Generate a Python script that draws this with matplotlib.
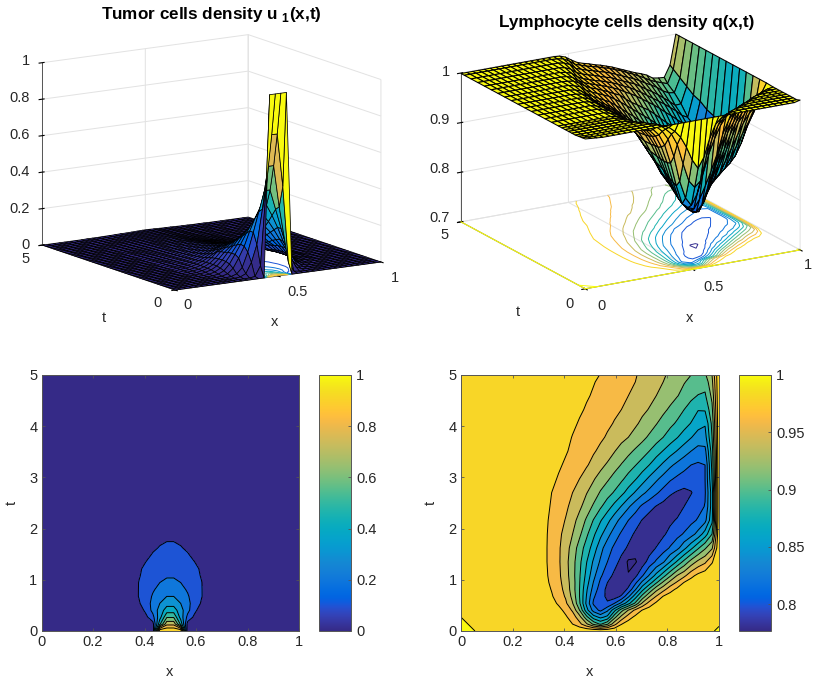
import numpy as np
import matplotlib
matplotlib.use("Agg")
import matplotlib.pyplot as plt
from matplotlib.colors import LinearSegmentedColormap, Normalize
from matplotlib.cm import ScalarMappable

plt.rcParams['font.family'] = ['Liberation Sans', 'DejaVu Sans']
plt.rcParams['mathtext.fontset'] = 'custom'
plt.rcParams['mathtext.bf'] = 'Liberation Sans:bold'
plt.rcParams['mathtext.rm'] = 'Liberation Sans'
FS = 10.5
TXT = '#262626'
EDGE = '#555555'

parula = LinearSegmentedColormap.from_list('parula', [
    (0.2081, 0.1663, 0.5292), (0.2116, 0.1898, 0.5777), (0.2123, 0.2138, 0.6270), (0.2081, 0.2386, 0.6771),
    (0.1959, 0.2645, 0.7279), (0.1707, 0.2919, 0.7792), (0.1253, 0.3242, 0.8303), (0.0591, 0.3598, 0.8683),
    (0.0117, 0.3875, 0.8820), (0.0060, 0.4086, 0.8828), (0.0165, 0.4266, 0.8786), (0.0329, 0.4430, 0.8720),
    (0.0498, 0.4586, 0.8641), (0.0629, 0.4737, 0.8554), (0.0723, 0.4887, 0.8467), (0.0779, 0.5040, 0.8384),
    (0.0793, 0.5200, 0.8312), (0.0749, 0.5375, 0.8263), (0.0641, 0.5570, 0.8240), (0.0488, 0.5772, 0.8228),
    (0.0343, 0.5966, 0.8199), (0.0265, 0.6137, 0.8135), (0.0239, 0.6287, 0.8038), (0.0231, 0.6418, 0.7913),
    (0.0228, 0.6535, 0.7768), (0.0267, 0.6642, 0.7607), (0.0384, 0.6743, 0.7436), (0.0590, 0.6838, 0.7254),
    (0.0843, 0.6928, 0.7062), (0.1133, 0.7015, 0.6859), (0.1453, 0.7098, 0.6646), (0.1801, 0.7177, 0.6424),
    (0.2178, 0.7250, 0.6193), (0.2586, 0.7317, 0.5954), (0.3022, 0.7376, 0.5712), (0.3482, 0.7424, 0.5473),
    (0.3953, 0.7459, 0.5244), (0.4420, 0.7481, 0.5033), (0.4871, 0.7491, 0.4840), (0.5300, 0.7491, 0.4661),
    (0.5709, 0.7485, 0.4494), (0.6099, 0.7473, 0.4337), (0.6473, 0.7456, 0.4188), (0.6834, 0.7435, 0.4044),
    (0.7184, 0.7411, 0.3905), (0.7525, 0.7384, 0.3768), (0.7858, 0.7356, 0.3633), (0.8185, 0.7327, 0.3498),
    (0.8507, 0.7299, 0.3360), (0.8824, 0.7274, 0.3217), (0.9139, 0.7258, 0.3063), (0.9450, 0.7261, 0.2886),
    (0.9739, 0.7314, 0.2666), (0.9938, 0.7455, 0.2403), (0.9990, 0.7653, 0.2164), (0.9955, 0.7861, 0.1967),
    (0.9880, 0.8066, 0.1794), (0.9789, 0.8271, 0.1633), (0.9697, 0.8481, 0.1475), (0.9626, 0.8705, 0.1309),
    (0.9589, 0.8949, 0.1132), (0.9598, 0.9218, 0.0948), (0.9661, 0.9514, 0.0755), (0.9763, 0.9831, 0.0538)], N=256)

# grid of the solution: 38 points in x and t
x_grid = np.linspace(0, 1, 38)
t_grid = np.linspace(0, 5, 38)

# u1 in thousandths, left half, columns x_grid[8:19], one row per t_grid
u_start = 8
u_rows = [
    [0, 0, 0, 0, 0, 0, 0, 0, 0, 1000, 1000],
    [0, 0, 0, 0, 0, 0, 1, 5, 60, 480, 770],
    [0, 0, 0, 0, 1, 4, 18, 75, 170, 360, 590],
    [0, 0, 0, 1, 4, 14, 45, 125, 230, 340, 450],
    [0, 0, 1, 3, 12, 38, 90, 150, 230, 300, 360],
    [0, 1, 3, 8, 22, 55, 104, 155, 210, 260, 300],
    [1, 2, 5, 13, 30, 62, 103, 145, 190, 225, 255],
    [2, 4, 9, 18, 35, 64, 102, 135, 170, 200, 220],
    [3, 5, 11, 20, 36, 63, 95, 120, 150, 172, 190],
    [4, 7, 12, 21, 36, 60, 92, 112, 132, 152, 165],
    [5, 8, 13, 22, 35, 56, 84, 100, 118, 132, 145],
    [6, 9, 14, 22, 34, 50, 68, 88, 104, 118, 127],
    [6, 9, 14, 21, 31, 44, 60, 78, 93, 103, 111],
    [6, 9, 13, 20, 29, 40, 53, 67, 81, 94, 99],
    [6, 9, 13, 19, 27, 37, 47, 58, 69, 79, 88],
    [6, 9, 13, 18, 25, 34, 43, 53, 62, 71, 79],
    [6, 9, 12, 17, 23, 31, 39, 48, 56, 64, 71],
    [6, 8, 11, 16, 21, 28, 35, 43, 51, 58, 64],
    [6, 8, 11, 15, 20, 26, 32, 39, 46, 52, 58],
    [5, 7, 10, 14, 18, 24, 29, 35, 42, 47, 52],
    [5, 7, 9, 13, 17, 22, 27, 32, 38, 43, 47],
    [5, 6, 9, 12, 15, 20, 25, 29, 34, 39, 43],
    [4, 6, 8, 11, 14, 18, 22, 27, 31, 35, 39],
    [4, 5, 7, 10, 13, 16, 20, 24, 28, 32, 35],
    [4, 5, 7, 9, 12, 15, 18, 22, 25, 29, 32],
    [3, 4, 6, 8, 10, 13, 16, 19, 23, 26, 28],
    [3, 4, 5, 7, 9, 12, 15, 17, 20, 23, 25],
    [3, 4, 5, 6, 8, 11, 13, 15, 18, 20, 23],
    [2, 3, 4, 6, 7, 9, 12, 14, 16, 18, 20],
    [2, 3, 4, 5, 7, 8, 10, 12, 14, 16, 18],
    [2, 2, 3, 4, 6, 7, 9, 11, 13, 14, 16],
    [2, 2, 3, 4, 5, 7, 8, 10, 11, 13, 14],
    [1, 2, 3, 3, 4, 6, 7, 9, 10, 11, 13],
    [1, 2, 2, 3, 4, 5, 6, 8, 9, 10, 11],
    [1, 2, 2, 3, 3, 4, 6, 7, 8, 9, 10],
    [1, 1, 2, 2, 3, 4, 5, 6, 7, 8, 9],
    [1, 1, 2, 2, 3, 3, 4, 5, 6, 7, 8],
    [1, 1, 1, 2, 2, 3, 4, 4, 5, 6, 7],
]

# q in thousandths, rows at t_grid[q_t_index], each row starts at column q_starts
q_t_index = [1, 2, 3, 4, 5, 6, 7, 8, 10, 12, 14, 16, 18, 20, 22, 24, 26, 28, 30, 32, 34, 36, 37]
q_starts = [13, 13, 12, 11, 10, 10, 10, 10, 10, 10, 10, 10, 10, 10, 11, 12, 12, 13, 14, 15, 16, 16, 17]
q_rows = [
    [999, 995, 990, 980, 966, 944, 916, 897, 917, 953, 979, 990, 996, 998],
    [997, 993, 983, 971, 948, 907, 870, 855, 866, 913, 947, 971, 985, 994, 998],
    [998, 994, 986, 975, 957, 920, 868, 832, 815, 836, 874, 912, 941, 965, 981, 990, 995, 998],
    [998, 995, 987, 977, 964, 941, 903, 855, 817, 807, 802, 820, 845, 873, 904, 943, 968, 984, 993, 997, 999],
    [998, 996, 991, 982, 971, 958, 934, 900, 859, 823, 807, 796, 790, 803, 836, 871, 907, 938, 961, 981, 990, 995, 998],
    [998, 995, 988, 979, 968, 954, 930, 900, 863, 832, 810, 795, 786, 785, 805, 838, 874, 904, 934, 953, 972, 985, 994, 998],
    [997, 994, 986, 976, 966, 951, 930, 901, 869, 839, 816, 800, 788, 782, 790, 815, 845, 870, 897, 924, 947, 963, 981, 990, 995, 998],
    [997, 993, 984, 975, 964, 949, 928, 902, 874, 846, 823, 809, 795, 784, 781, 795, 818, 842, 867, 892, 917, 941, 955, 974, 986, 993, 997],
    [996, 992, 983, 974, 963, 947, 928, 905, 881, 857, 837, 820, 808, 794, 777, 778, 790, 808, 823, 837, 860, 883, 906, 928, 945, 956, 978, 1000],
    [996, 992, 983, 974, 963, 949, 932, 911, 891, 871, 847, 829, 816, 807, 797, 787, 781, 790, 801, 811, 822, 834, 854, 875, 897, 917, 937, 1000],
    [996, 992, 983, 975, 965, 953, 940, 924, 904, 884, 865, 847, 830, 817, 807, 797, 788, 782, 788, 797, 806, 814, 822, 832, 847, 870, 900, 1000],
    [997, 993, 984, 976, 968, 959, 947, 933, 917, 899, 882, 866, 849, 833, 820, 809, 799, 791, 785, 789, 796, 802, 808, 815, 822, 834, 875, 1000],
    [998, 994, 986, 978, 971, 964, 954, 944, 931, 917, 903, 889, 874, 859, 843, 829, 816, 807, 799, 793, 788, 790, 800, 807, 813, 821, 870, 1000],
    [998, 996, 990, 980, 974, 967, 960, 950, 941, 931, 918, 908, 898, 886, 872, 858, 845, 834, 823, 813, 803, 798, 795, 799, 807, 818, 870, 1000],
    [997, 993, 985, 978, 972, 966, 960, 951, 942, 932, 923, 913, 904, 893, 882, 869, 856, 844, 833, 823, 816, 811, 808, 808, 820, 880, 1000],
    [996, 992, 983, 977, 972, 967, 962, 954, 946, 937, 928, 919, 910, 901, 891, 880, 868, 856, 844, 835, 827, 820, 817, 820, 885, 1000],
    [998, 996, 990, 982, 976, 972, 967, 962, 956, 951, 941, 932, 925, 917, 910, 900, 889, 879, 869, 859, 849, 840, 833, 834, 890, 1000],
    [998, 994, 986, 979, 975, 971, 967, 963, 958, 953, 946, 940, 933, 925, 917, 909, 900, 890, 881, 871, 861, 851, 852, 900, 1000],
    [997, 993, 984, 978, 974, 970, 967, 963, 959, 954, 948, 943, 936, 929, 921, 913, 905, 897, 888, 879, 868, 862, 905, 1000],
    [997, 992, 983, 978, 974, 971, 967, 963, 960, 954, 949, 944, 939, 932, 924, 917, 909, 900, 891, 881, 882, 915, 1000],
    [997, 992, 982, 978, 974, 971, 967, 964, 960, 955, 950, 945, 940, 934, 927, 921, 914, 905, 899, 897, 925, 1000],
    [998, 996, 990, 981, 977, 973, 970, 967, 963, 960, 955, 951, 945, 940, 934, 928, 921, 916, 912, 908, 935, 1000],
    [998, 994, 986, 979, 975, 972, 968, 965, 961, 957, 952, 947, 942, 937, 933, 928, 920, 918, 917, 940, 1000],
]
q_flat = 999
# the slightly higher nodes of the corner x=0, t=0 and the one at x=1, t=0
q_corner = [[1002, 1001, 1000], [1001, 1000], [1000]]
q_corner_right = 1002

u_levels = [0.1, 0.2, 0.3, 0.4, 0.5, 0.6, 0.7, 0.8, 0.9]
q_levels = [0.78, 0.80, 0.82, 0.84, 0.86, 0.88, 0.90, 0.92, 0.94, 0.96, 0.98, 1.0]
q_clim = (0.7767, 1.0)

# build the two fields
u = np.zeros((38, 38))
half = np.array(u_rows) / 1000
u[:, u_start:u_start + half.shape[1]] = half
u[:, 19:] = u[:, 18::-1]

q_t = t_grid[[0] + q_t_index]
q = np.full((len(q_t), 38), q_flat) / 1000
for row, start, vals in zip(q[1:], q_starts, q_rows):
    row[start:start + len(vals)] = np.array(vals) / 1000
for j, vals in enumerate(q_corner):
    q[j, :len(vals)] = np.array(vals) / 1000
q[0, -1] = q_corner_right / 1000

fig = plt.figure(figsize=(8.14, 6.81), dpi=100)
W, H = 814, 681


def px_text(px, py, s, ha='center', **kw):
    kw.setdefault('fontsize', FS)
    kw.setdefault('color', TXT)
    fig.text(px / W, 1 - py / H, s, ha=ha, va='center', **kw)


def surf_panel(rect, elev, azim, aspect, Z, t, clim, levels, zlim, zticks, mesh_lw):
    l, t_px, w, h = rect
    ax = fig.add_axes([l / W, 1 - (t_px + h) / H, w / W, h / H], projection='3d')
    ax.patch.set_alpha(0)
    ax.computed_zorder = False
    ax.set_proj_type('ortho')
    ax.view_init(elev=elev, azim=azim)
    ax.set_box_aspect(aspect)
    X, T = np.meshgrid(x_grid, t)
    norm = Normalize(*clim)
    ax.contour(X, T, Z, levels=levels, zdir='z', offset=zlim[0], cmap=parula,
               norm=norm, linewidths=0.7, zorder=1)
    ax.plot_surface(X, T, Z, rstride=1, cstride=1, facecolors=parula(norm(Z)), shade=False,
                    edgecolor='k', linewidth=mesh_lw, zorder=2)
    ax.set_xlim(0, 1)
    ax.set_ylim(0, 5)
    ax.set_zlim(*zlim)
    ax.set_xticks([0, 0.5, 1])
    ax.set_yticks([0, 5])
    ax.set_zticks(zticks)
    for axis in (ax.xaxis, ax.yaxis, ax.zaxis):
        axis.set_ticklabels([''] * len(axis.get_ticklocs()))
        axis.set_pane_color((1, 1, 1, 0))
        axis._axinfo['grid'].update(color='#e2e2e2', linewidth=0.7)
        axis._axinfo['tick'].update(color=EDGE)
        axis.line.set_color(EDGE)
        axis.line.set_linewidth(0.7)
        axis.pane.set_edgecolor('#e2e2e2')
    ax.zaxis.set_ticks_position('upper')
    return ax


def flat_panel(rect, cbar_rect, Z, t, levels, clim, fill_lo, fill_hi, cticks, clabels):
    l, t_px, w, h = rect
    ax = fig.add_axes([l / W, 1 - (t_px + h) / H, w / W, h / H])
    norm = Normalize(*clim)
    edges = [fill_lo] + levels + [fill_hi]
    cols = [parula(norm(max(e, clim[0]))) for e in edges[:-1]]
    ax.contourf(x_grid, t, Z, levels=edges, colors=cols)
    ax.contour(x_grid, t, Z, levels=levels, colors='k', linewidths=0.7)
    ax.set_xlim(0, 1)
    ax.set_ylim(0, 5)
    ax.set_xticks([0, 0.2, 0.4, 0.6, 0.8, 1])
    ax.set_xticklabels(['0', '0.2', '0.4', '0.6', '0.8', '1'])
    ax.set_yticks([0, 1, 2, 3, 4, 5])
    ax.tick_params(direction='in', top=True, right=True, length=2.5, width=0.6, color=EDGE,
                   labelsize=FS, labelcolor=TXT, pad=3)
    for s in ax.spines.values():
        s.set_color(EDGE)
        s.set_linewidth(0.7)
    l, t_px, w, h = cbar_rect
    cax = fig.add_axes([l / W, 1 - (t_px + h) / H, w / W, h / H])
    cb = fig.colorbar(ScalarMappable(norm=norm, cmap=parula), cax=cax)
    cb.set_ticks(cticks)
    cb.set_ticklabels(clabels)
    cax.tick_params(direction='in', length=2.5, width=0.6, color=EDGE, labelsize=FS,
                    labelcolor=TXT, pad=4)
    cb.outline.set_edgecolor(EDGE)
    cb.outline.set_linewidth(0.7)
    return ax


# top left
surf_panel((15, -24, 383, 383), 12.4, -122.4, (244, 248, 187), u, t_grid, (0, 1),
           u_levels, (0, 1), [0, 0.2, 0.4, 0.6, 0.8, 1], 0.55)
px_text(211, 15, r'Tumor cells density u $_{\mathbf{1}}$(x,t)', fontweight='bold', color='k', fontsize=12.3)
for py, s in zip([61, 98, 135, 172, 209, 245], ['1', '0.8', '0.6', '0.4', '0.2', '0']):
    px_text(30, py, s, ha='right')
px_text(26, 259, '5')
px_text(157, 303, '0')
px_text(104, 318, 't')
px_text(188, 305, '0')
px_text(298, 292, '0.5')
px_text(395, 278, '1')
px_text(275, 322, 'x')

# top right
ax_q = surf_panel((439, -20, 373, 373), 18.2, -120.1, (248.5, 248, 156.8), q, q_t, q_clim,
                  q_levels, (0.7, 1), [0.7, 0.8, 0.9, 1], 0.75)
base_col = parula(1.0)
ax_q.plot([0, 0], [0, 5], [0.7, 0.7], color=base_col, linewidth=0.8, zorder=1)
ax_q.plot([0, 1], [0, 0], [0.7, 0.7], color=base_col, linewidth=0.8, zorder=1)
px_text(627, 22, 'Lymphocyte cells density q(x,t)', fontweight='bold', color='k', fontsize=12.3)
for py, s in zip([72, 120, 169, 218], ['1', '0.9', '0.8', '0.7']):
    px_text(450, py, s, ha='right')
px_text(445, 235, '5')
px_text(570, 304, '0')
px_text(518, 312, 't')
px_text(601, 306, '0')
px_text(714, 287, '0.5')
px_text(808, 265, '1')
px_text(690, 318, 'x')

# bottom row
flat_panel((41.5, 375, 257.5, 256), (319, 375, 31.5, 256), u, t_grid, u_levels, (0, 1), -0.01, 1.01,
           [0, 0.2, 0.4, 0.6, 0.8, 1], ['0', '0.2', '0.4', '0.6', '0.8', '1'])
px_text(170, 672, 'x')
px_text(12, 503, 't', rotation=90)
flat_panel((461, 375, 258, 256), (739, 375, 31.5, 256), q, q_t, q_levels, q_clim, 0.77, 1.01,
           [0.8, 0.85, 0.9, 0.95, 1], ['0.8', '0.85', '0.9', '0.95', '1'])
px_text(590, 672, 'x')
px_text(431, 503, 't', rotation=90)

fig.savefig('out.png', dpi=100)
